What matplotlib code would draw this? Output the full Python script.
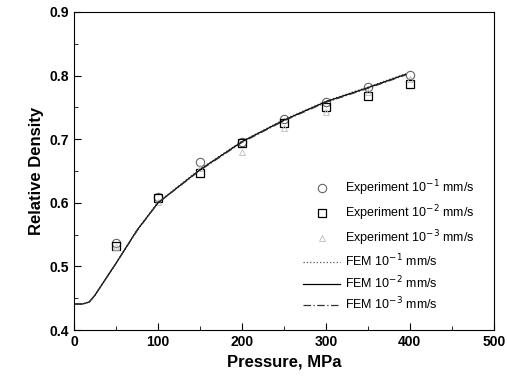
import numpy as np
import matplotlib
matplotlib.use("Agg")
import matplotlib.pyplot as plt

plt.rcParams['font.family'] = ['Liberation Sans', 'DejaVu Sans']

# Experimental data
pressure = [50, 100, 150, 200, 250, 300, 350, 400]
exp_1 = [0.537, 0.609, 0.664, 0.696, 0.732, 0.759, 0.782, 0.801]
exp_2 = [0.532, 0.607, 0.647, 0.694, 0.726, 0.751, 0.768, 0.787]
exp_3 = [0.530, 0.602, 0.655, 0.680, 0.717, 0.743, 0.775, 0.795]

# FEM curves
fem_p = [0, 10, 18, 25, 35, 50, 75, 100, 150, 200, 250, 300, 350, 395]
fem_1 = [0.441, 0.441, 0.444, 0.455, 0.475, 0.505, 0.557, 0.601, 0.653, 0.697, 0.731, 0.760, 0.782, 0.803]
fem_2 = [0.441, 0.441, 0.444, 0.455, 0.475, 0.505, 0.557, 0.600, 0.652, 0.696, 0.730, 0.759, 0.781, 0.802]
fem_3 = [0.441, 0.441, 0.444, 0.455, 0.475, 0.505, 0.556, 0.600, 0.651, 0.695, 0.729, 0.758, 0.780, 0.801]

fig = plt.figure(figsize=(5.07, 3.87), dpi=100)
ax = fig.add_axes([0.146, 0.147, 0.828, 0.822])

ax.plot(pressure, exp_1, 'o', mfc='none', mec='#666666', ms=6, mew=0.8,
        label='Experiment 10$^{-1}$ mm/s')
ax.plot(pressure, exp_2, 's', mfc='none', mec='black', ms=6, mew=0.9,
        label='Experiment 10$^{-2}$ mm/s')
ax.plot(pressure, exp_3, '^', mfc='none', mec='#bbbbbb', ms=5, mew=0.6,
        label='Experiment 10$^{-3}$ mm/s')
ax.plot(fem_p, fem_1, ':', color='#555555', lw=0.9, label='FEM 10$^{-1}$ mm/s')
ax.plot(fem_p, fem_2, '-', color='black', lw=0.9, label='FEM 10$^{-2}$ mm/s')
ax.plot(fem_p, fem_3, '-.', color='#333333', lw=0.9, dashes=(6, 2, 1, 2), label='FEM 10$^{-3}$ mm/s')

ax.set_xlim(0, 500)
ax.set_ylim(0.4, 0.9)
ax.set_xticks([0, 100, 200, 300, 400, 500])
ax.set_yticks([0.4, 0.5, 0.6, 0.7, 0.8, 0.9])
ax.set_xticks(np.arange(50, 500, 100), minor=True)
ax.set_yticks(np.arange(0.45, 0.9, 0.1), minor=True)
ax.tick_params(which='both', direction='in', labelsize=10)
ax.tick_params(which='major', length=5)
ax.tick_params(which='minor', length=3)
for lab in ax.get_xticklabels() + ax.get_yticklabels():
    lab.set_fontweight('bold')

ax.set_xlabel('Pressure, MPa', fontsize=12, fontweight='bold')
ax.set_ylabel('Relative Density', fontsize=12, fontweight='bold')

ax.legend(loc='lower right', bbox_to_anchor=(0.982, 0.02), frameon=False, fontsize=9,
          numpoints=1, handlelength=3.0, labelspacing=0.4, handletextpad=0.4)

fig.savefig('out.png', dpi=100)
